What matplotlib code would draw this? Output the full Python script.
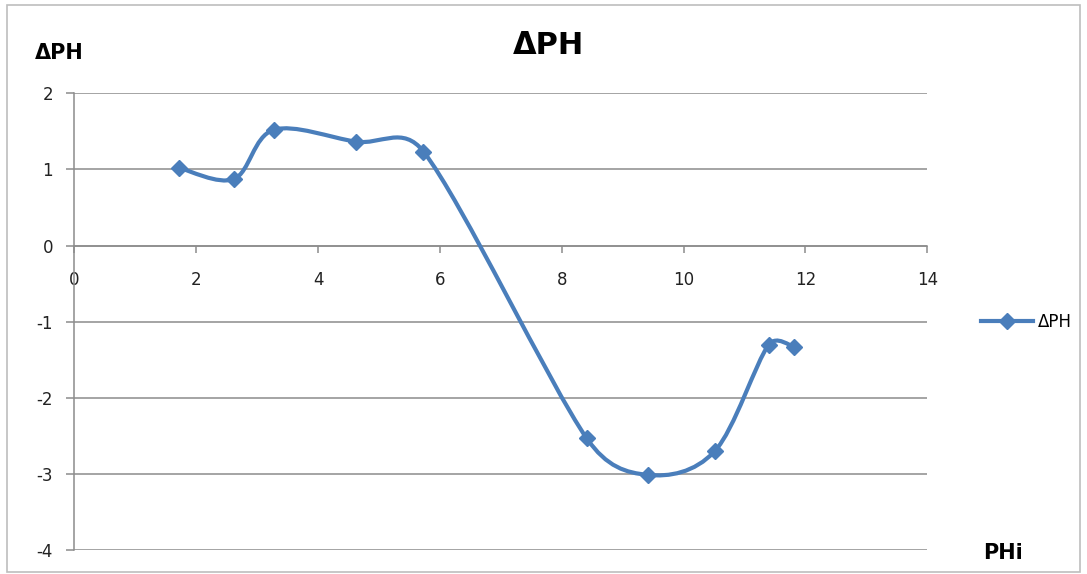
import numpy as np
import matplotlib.pyplot as plt
from matplotlib.path import Path
from matplotlib.patches import PathPatch, Rectangle
from matplotlib.lines import Line2D

plt.rcParams["axes.unicode_minus"] = False

# initial pH and pH change
phi = [1.72, 2.62, 3.27, 4.62, 5.73, 8.41, 9.41, 10.51, 11.40, 11.82]
delta_ph = [1.02, 0.875, 1.52, 1.365, 1.235, -2.53, -3.01, -2.70, -1.30, -1.33]

x_ticks = [0, 2, 4, 6, 8, 10, 12, 14]
y_ticks = [-4, -3, -2, -1, 0, 1, 2]

BLUE = "#4A7EBB"
GRID = "#8C8C8C"


def smooth_path(xs, ys, sx, sy):
    # spreadsheet-style smoothed line: bezier handles are (next - prev) / 6,
    # capped at half the segment length (worked out in screen units)
    pts = np.column_stack([np.asarray(xs) * sx, np.asarray(ys) * sy])
    n = len(pts)

    def handle(i, seg):
        d = pts[min(i + 1, n - 1)] - pts[max(i - 1, 0)]
        ln = np.hypot(*d)
        h = min(ln / 6.0, seg / 2.0)
        return d / ln * h

    verts = [pts[0]]
    codes = [Path.MOVETO]
    for i in range(n - 1):
        seg = np.hypot(*(pts[i + 1] - pts[i]))
        c1 = pts[i] + handle(i, seg)
        c2 = pts[i + 1] - handle(i + 1, seg)
        verts += [c1, c2, pts[i + 1]]
        codes += [Path.CURVE4] * 3
    verts = np.array(verts) / [sx, sy]
    return Path(verts, codes)


fig = plt.figure(figsize=(10.87, 5.74), dpi=100)
ax = fig.add_axes([0.0685, 0.0413, 0.7845, 0.7962])

ax.set_xlim(0, 14)
ax.set_ylim(-4, 2)
ax.set_xticks(x_ticks)
ax.set_yticks(y_ticks)

ax.grid(axis="y", color=GRID, linewidth=1.1)
ax.set_axisbelow(True)
for s in ["top", "right"]:
    ax.spines[s].set_visible(False)
ax.spines["left"].set_color(GRID)
ax.spines["left"].set_linewidth(1.1)
ax.spines["bottom"].set_position(("data", 0))
ax.spines["bottom"].set_color(GRID)
ax.spines["bottom"].set_linewidth(1.1)

ax.tick_params(axis="x", direction="out", length=5, width=1.1, color=GRID,
               pad=13, labelsize=12, labelcolor="#222222")
ax.tick_params(axis="y", direction="out", length=5.5, width=1.1, color=GRID,
               pad=10, labelsize=12, labelcolor="#222222")

# pixels per data unit, so the smoothing is done in screen proportions
sx = 0.7845 * 1087 / 14
sy = 0.7962 * 574 / 6
patch = PathPatch(smooth_path(phi, delta_ph, sx, sy), facecolor="none",
                  edgecolor=BLUE, linewidth=3, capstyle="round", zorder=3)
ax.add_patch(patch)
ax.plot(phi, delta_ph, linestyle="none", marker="D", markersize=8,
        color=BLUE, zorder=4)

fig.text(0.505, 0.921, "ΔPH", ha="center", va="center",
         fontsize=22, fontweight="bold")
fig.text(0.032, 0.907, "ΔPH", ha="left", va="center",
         fontsize=15, fontweight="bold")
fig.text(0.923, 0.037, "PHi", ha="center", va="center",
         fontsize=15, fontweight="bold")

handle_line = Line2D([], [], color=BLUE, linewidth=3, marker="D", markersize=8)
fig.legend([handle_line], ["ΔPH"], loc="center left",
           bbox_to_anchor=(0.895, 0.439), frameon=False, fontsize=12,
           handlelength=3.1, handletextpad=0.3, borderpad=0, numpoints=1)

# chart area border
fig.patches.append(Rectangle((0.006, 0.003), 0.988, 0.988,
                             transform=fig.transFigure, fill=False,
                             edgecolor="#BEBEBE", linewidth=1.2))

fig.savefig("out.png", dpi=100)
